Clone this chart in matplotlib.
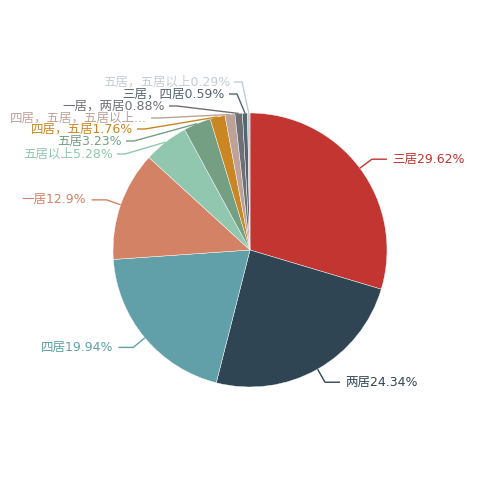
import numpy as np
import matplotlib
matplotlib.use("Agg")
import matplotlib.pyplot as plt

plt.rcParams["font.family"] = ["DejaVu Sans", "Noto Sans CJK SC"]

# Data (share of listings by layout, %)
labels = [
    "三居", "两居", "四居", "一居", "五居以上", "五居",
    "四居，五居", "四居，五居，五居以上...", "一居，两居",
    "三居，四居", "五居，五居以上",
]
values = [29.62, 24.34, 19.94, 12.9, 5.28, 3.23, 1.76, 1.17, 0.88, 0.59, 0.29]
value_text = ["29.62%", "24.34%", "19.94%", "12.9%", "5.28%", "3.23%",
              "1.76%", "", "0.88%", "0.59%", "0.29%"]

colors = ["#c23531", "#2f4554", "#61a0a8", "#d48265", "#91c7ae", "#749f83",
          "#ca8622", "#bda29a", "#6e7074", "#546570", "#c4ccd3"]

# Layout in pixels (origin top-left), as in the reference
W = H = 500
cx, cy, r = 250, 250, 137
len1, len2, gap = 15, 15, 5
# crowded labels on the upper left: index -> (text right end x, text y)
crowded = {
    4: (113, 154),
    5: (122, 141),
    6: (133, 129),
    7: (147, 118),
    8: (165, 106),
    9: (225, 94),
    10: (230, 82),
}

fig = plt.figure(figsize=(5, 5), dpi=100)
ax = fig.add_axes([0, 0, 1, 1])

ax.pie(
    values,
    colors=colors,
    startangle=90,
    counterclock=False,
    center=(cx, H - cy),
    radius=r,
    wedgeprops=dict(edgecolor="white", linewidth=0.3),
)
ax.set_xlim(0, W)
ax.set_ylim(0, H)
ax.set_aspect("equal")
ax.axis("off")

total = sum(values)
cum = np.cumsum([0] + values[:-1])
for i, (lab, v) in enumerate(zip(labels, values)):
    frac = (cum[i] + v / 2) / total
    ang = 2 * np.pi * frac  # clockwise from top
    dx, dy = np.sin(ang), -np.cos(ang)  # pixel direction (y down)
    x0, y0 = cx + r * dx, cy + r * dy
    side = 1 if dx >= 0 else -1
    if i in crowded:
        tx, ty = crowded[i]
        ex, ey = tx + len2 - 3, ty
        lx = tx + gap - 1
    else:
        ex, ey = cx + (r + len1) * dx, cy + (r + len1) * dy
        lx = ex + side * len2
        tx = lx + side * gap
        ty = ey
    ax.plot([x0, ex, lx], [H - y0, H - ey, H - ey], color=colors[i],
            linewidth=1, solid_capstyle="butt")
    ax.text(tx, H - ty, lab + value_text[i], color=colors[i], fontsize=9,
            ha="left" if side > 0 and i not in crowded else "right",
            va="center")

fig.savefig("out.png", dpi=100)
